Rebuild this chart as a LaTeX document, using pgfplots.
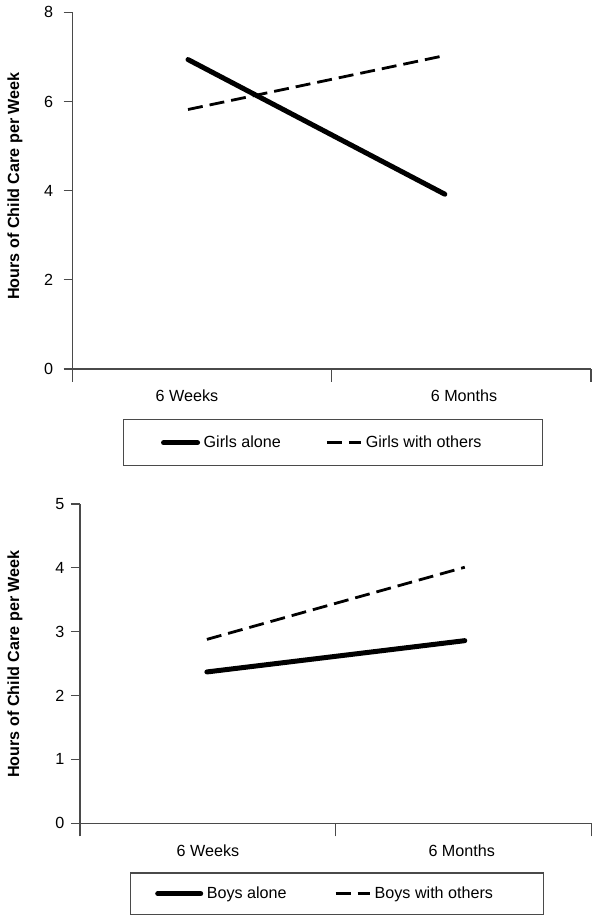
\documentclass[border=0pt]{standalone}
\usepackage{fontspec}
\setmainfont{Liberation Sans}
\usepackage{pgfplots}
\pgfplotsset{compat=1.18}
\definecolor{axgray}{HTML}{4A4A4A}
\tikzset{catlabel/.style={font=\fontsize{8.1}{9.7}\selectfont, anchor=center, yshift=-13.5bp}}
\pgfplotsset{
  chartstyle/.style={
    scale only axis,
    axis lines=left,
    axis line style={-, draw=axgray, line width=0.6bp},
    tick style={draw=axgray, line width=0.6bp},
    tick align=outside,
    font=\fontsize{8.1}{9.7}\selectfont,
    /pgf/number format/assume math mode=true,
    xmin=0, xmax=2, ymin=0,
    xtick={0,1,2}, xticklabels={,,},
    xtick style={/pgfplots/major tick length=6.5bp},
    ytick style={/pgfplots/major tick length=4.5bp},
    legend columns=2,
    legend cell align=left,
    clip=false,
  },
  boxlegend/.style={
    anchor=north west, draw=axgray, line width=0.6bp,
    inner xsep=0pt, inner ysep=0pt,
    font=\fontsize{8.1}{9.7}\selectfont,
    nodes={inner sep=1.8bp, minimum width=0pt, minimum height=0pt},
    /tikz/every even column/.append style={column sep=20.5bp}},
  solidline/.style={black, line width=2.5bp, line cap=round},
  dashline/.style={black, line width=1.4bp, dash pattern=on 7.5bp off 3.5bp},
  longlegend/.style={legend image code/.code={\draw[##1] (0bp,0bp) -- (21.5bp,0bp);}},
}
\begin{document}
\fontsize{8.1}{9.7}\selectfont
\begin{tikzpicture}
\path[use as bounding box] (0,0) rectangle (300bp,461bp);
% Top chart: girls
\begin{axis}[chartstyle,
  at={(36.35bp,276.5bp)}, anchor=south west,
  width=259.15bp, height=178.35bp,
  ymax=8, ytick={0,2,4,6,8},
  yticklabel style={anchor=east, xshift=-2.65bp},
  ylabel={\textbf{Hours of Child Care per Week}},
  ylabel style={at={(axis description cs:-0.1113,0.513)}, anchor=center},
  legend style={boxlegend, at={(axis description cs:0.097,-0.141)},
    minimum width=209.5bp, minimum height=22.85bp},
]
\addplot[solidline] coordinates {(0.445,6.94) (1.436,3.92)};
\addlegendentry{Girls alone}
\addplot[dashline] coordinates {(0.445,5.82) (1.436,7.03)};
\addlegendentry{Girls with others\hspace*{10bp}}
\node[catlabel] at (axis cs:0.441,0) {6 Weeks};
\node[catlabel] at (axis cs:1.51,0) {6 Months};
\end{axis}
% Bottom chart: boys
\begin{axis}[chartstyle,
  at={(40bp,49.35bp)}, anchor=south west,
  width=255.85bp, height=159.65bp,
  ymax=5, ytick={0,1,2,3,4,5},
  yticklabel style={anchor=east, xshift=-0.65bp},
  ylabel={\textbf{Hours of Child Care per Week}},
  ylabel style={at={(axis description cs:-0.127,0.499)}, anchor=center},
  legend style={boxlegend, at={(axis description cs:0.0977,-0.1535)},
    minimum width=206.35bp, minimum height=20.85bp,
    /tikz/every even column/.append style={column sep=22bp}},
]
\addplot[solidline, longlegend] coordinates {(0.496,2.37) (1.504,2.86)};
\addlegendentry{Boys alone}
\addplot[dashline] coordinates {(0.496,2.88) (1.504,4.01)};
\addlegendentry{Boys with others\hspace*{11bp}}
\node[catlabel] at (axis cs:0.5,0) {6 Weeks};
\node[catlabel] at (axis cs:1.492,0) {6 Months};
\end{axis}
\end{tikzpicture}
\end{document}
